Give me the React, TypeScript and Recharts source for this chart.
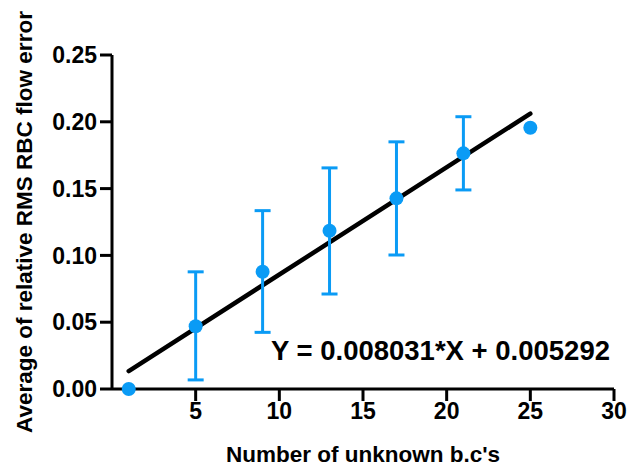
import { ComposedChart, Line, Scatter, XAxis, YAxis, ErrorBar, Label } from 'recharts';

// values
const unknownBcs = [5, 9, 13, 17, 21];
const meanError = [0.047, 0.0878, 0.1185, 0.1427, 0.1764];
const lowError = [0.0068, 0.0424, 0.0711, 0.1003, 0.149];
const highError = [0.0877, 0.1335, 0.1655, 0.185, 0.2038];

// points drawn without error bars
const soloX = [1, 25];
const soloY = [0, 0.1956];

// regression line end points
const fitX = [1, 25];
const fitY = [0.0134, 0.2061];

const xTicks = [5, 10, 15, 20, 25, 30];
const yTicks = [0, 0.05, 0.1, 0.15, 0.2, 0.25];

const blue = '#0A9BF5';
const font = '"Liberation Sans", Arial, sans-serif';

const barData = unknownBcs.map((x, i) => ({
    x,
    y: meanError[i],
    err: [meanError[i] - lowError[i], highError[i] - meanError[i]],
}));
const soloData = soloX.map((x, i) => ({ x, y: soloY[i] }));
const fitData = fitX.map((x, i) => ({ x, y: fitY[i] }));

const Dot = (props: any) => <circle cx={props.cx} cy={props.cy} r={7} fill={blue} />;

const renderYLabel = (props: any) => {
    const vb = props.viewBox;
    const cy = vb.y + vb.height / 2;
    return (
        <text
            transform={`translate(32, ${cy}) rotate(-90)`}
            textAnchor="middle"
            fontFamily={font}
            fontWeight="bold"
            fontSize={22.5}
            fill="#000"
        >
            Average of relative RMS RBC flow error
        </text>
    );
};

const renderXLabel = (props: any) => {
    const vb = props.viewBox;
    const cx = vb.x + vb.width / 2;
    return (
        <text x={cx} y={462} textAnchor="middle" fontFamily={font} fontWeight="bold" fontSize={22.5} fill="#000">
            Number of unknown b.c's
        </text>
    );
};

export default function App() {
    const tickStyle = { fill: '#000', fontSize: 23, fontWeight: 'bold', fontFamily: font };

    return (
        <div style={{ position: 'absolute', left: 0, top: 0, background: '#fff' }}>
            <ComposedChart width={629} height={469} margin={{ top: 55, right: 15, bottom: 0, left: 0 }}>
                <XAxis
                    type="number"
                    dataKey="x"
                    domain={[0, 30]}
                    ticks={xTicks}
                    height={80}
                    tickSize={12}
                    tickMargin={2}
                    tick={tickStyle}
                    stroke="#000"
                    strokeWidth={3}
                    axisLine={{ stroke: '#000', strokeWidth: 3 }}
                    tickLine={{ stroke: '#000', strokeWidth: 3 }}
                >
                    <Label content={renderXLabel} />
                </XAxis>
                <YAxis
                    type="number"
                    dataKey="y"
                    domain={[0, 0.25]}
                    ticks={yTicks}
                    width={112}
                    tickSize={12}
                    tickMargin={3}
                    tick={tickStyle}
                    tickFormatter={(v: number) => v.toFixed(2)}
                    stroke="#000"
                    strokeWidth={3}
                    axisLine={{ stroke: '#000', strokeWidth: 3 }}
                    tickLine={{ stroke: '#000', strokeWidth: 3 }}
                >
                    <Label content={renderYLabel} />
                </YAxis>
                <Line
                    data={fitData}
                    dataKey="y"
                    type="linear"
                    stroke="#000"
                    strokeWidth={4.5}
                    strokeLinecap="round"
                    dot={false}
                    activeDot={false}
                    isAnimationActive={false}
                />
                <Scatter data={barData} dataKey="y" fill={blue} shape={Dot} isAnimationActive={false}>
                    <ErrorBar dataKey="err" direction="y" width={8} stroke={blue} strokeWidth={3} />
                </Scatter>
                <Scatter data={soloData} dataKey="y" fill={blue} shape={Dot} isAnimationActive={false} />
                <text x={610} y={360} textAnchor="end" fontFamily={font} fontWeight="bold" fontSize={27.5} fill="#000">
                    Y = 0.008031*X + 0.005292
                </text>
            </ComposedChart>
        </div>
    );
}
